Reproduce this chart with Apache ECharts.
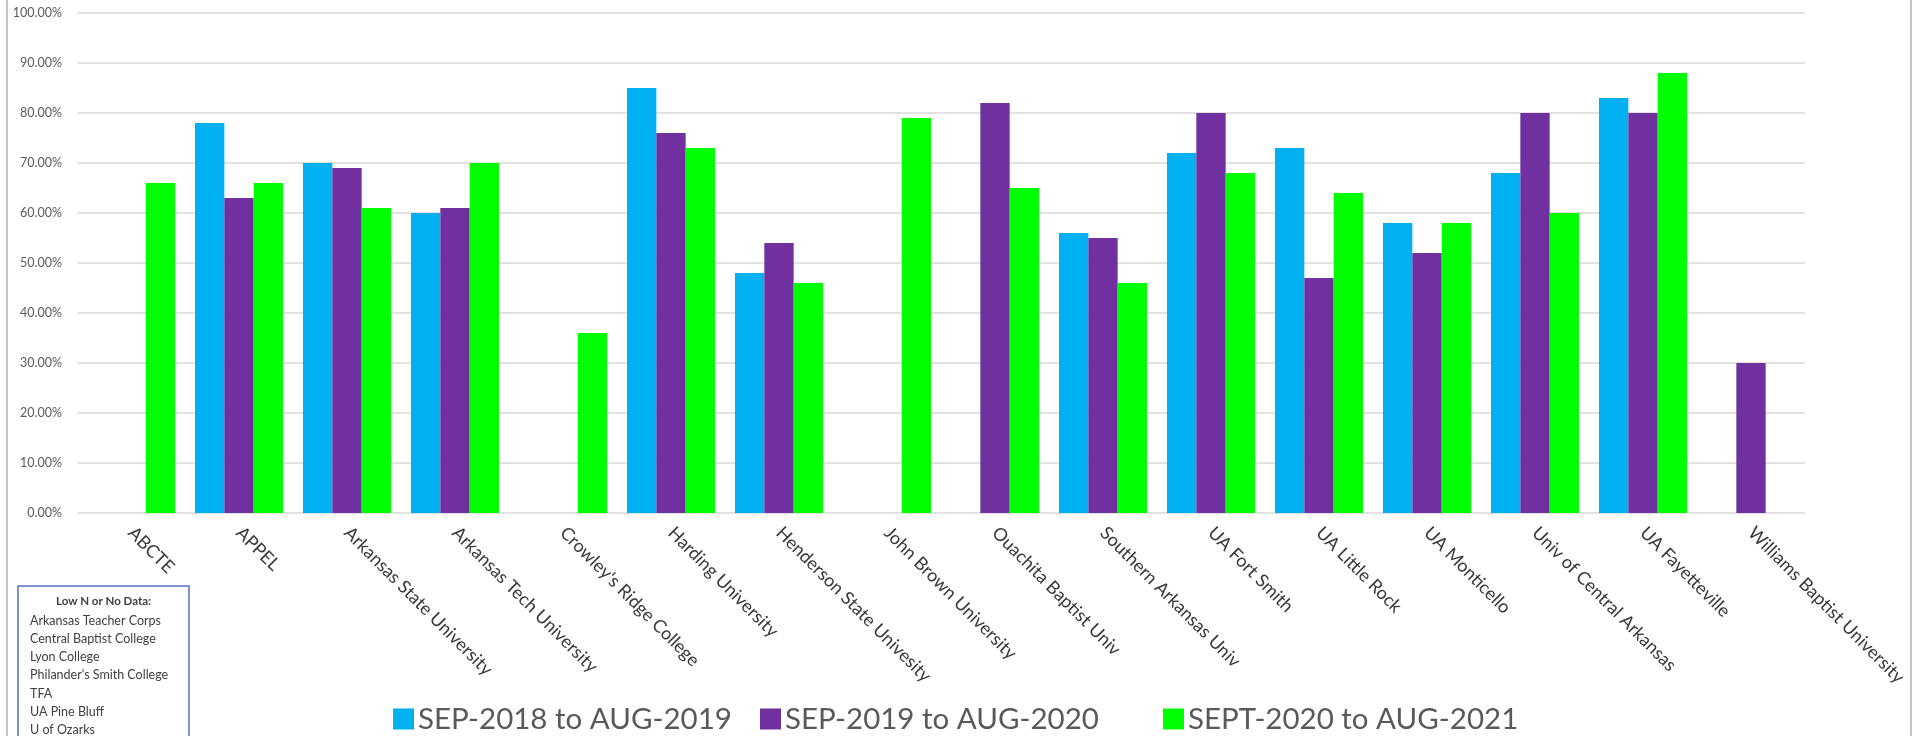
<!DOCTYPE html>
<html>
<head>
<meta charset="utf-8">
<script src="https://cdn.jsdelivr.net/npm/echarts@6/dist/echarts.min.js"></script>
<style>
  html, body { margin: 0; padding: 0; background: #fff; }
  #chart { width: 1915px; height: 736px; }
</style>
</head>
<body>
<div id="chart"></div>
<script>
const categories = [
  'ABCTE', 'APPEL', 'Arkansas State University', 'Arkansas Tech University',
  "Crowley's Ridge College", 'Harding University', 'Henderson State Univesity',
  'John Brown University', 'Ouachita Baptist Univ', 'Southern Arkansas Univ',
  'UA Fort Smith', 'UA Little Rock', 'UA Monticello', 'Univ of Central Arkansas',
  'UA Fayetteville', 'Williams Baptist University'
];

const seriesNames = ['SEP-2018 to AUG-2019', 'SEP-2019 to AUG-2020', 'SEPT-2020 to AUG-2021'];

// percent values, null = no data
const sep2018 = [null, 78, 70, 60, null, 85, 48, null, null, 56, 72, 73, 58, 68, 83, null];
const sep2019 = [null, 63, 69, 61, null, 76, 54, null, 82, 55, 80, 47, 52, 80, 80, 30];
const sept2020 = [66, 66, 61, 70, 36, 73, 46, 79, 65, 46, 68, 64, 58, 60, 88, null];

const lowNTitle = 'Low N or No Data:';
const lowNList = [
  'Arkansas Teacher Corps', 'Central Baptist College', 'Lyon College',
  "Philander's Smith College", 'TFA', 'UA Pine Bluff', 'U of Ozarks'
];

const colors = ['#00B0F0', '#7030A0', '#00FF00'];
const font = 'Lato, "Open Sans", sans-serif';
const legendLefts = [393, 760, 1163];

const chart = echarts.init(document.getElementById('chart'), null, { renderer: 'canvas' });

// one legend per series, placed where the original has them
const legends = seriesNames.map((name, i) => ({
  data: [name],
  left: legendLefts[i],
  top: 704,
  padding: 0,
  icon: 'rect',
  itemWidth: 21,
  itemHeight: 21,
  textStyle: { fontFamily: font, fontSize: 29.5, color: '#595959', padding: [0, 0, 0, -1] }
}));

const boxText = lowNList.map((t, i) => ({
  type: 'text',
  x: 30,
  y: 620.5 + i * 18.3,
  style: { text: t, fill: '#404040', font: '12.5px ' + font, textVerticalAlign: 'middle' }
}));

const option = {
  animation: false,
  color: colors,
  grid: {
    left: 77, right: 110, top: 13, bottom: 223,
    containLabel: false,
    outerBoundsMode: 'none'
  },
  legend: legends,
  xAxis: {
    type: 'category',
    data: categories,
    axisLine: { show: false },
    axisTick: { show: false },
    axisLabel: {
      interval: 0,
      rotate: -45,
      margin: 17,
      fontFamily: font,
      fontSize: 18,
      color: '#383838'
    }
  },
  yAxis: {
    type: 'value',
    min: 0,
    max: 100,
    interval: 10,
    axisLine: { show: false },
    axisTick: { show: false },
    splitLine: { lineStyle: { color: '#d9d9d9', width: 1.6 } },
    axisLabel: {
      margin: 15,
      fontFamily: font,
      fontSize: 12.5,
      color: '#595959',
      formatter: v => v.toFixed(2) + '%'
    }
  },
  series: [
    { name: seriesNames[0], type: 'bar', data: sep2018, barGap: '0%', barCategoryGap: '18.5%' },
    { name: seriesNames[1], type: 'bar', data: sep2019, barGap: '0%', barCategoryGap: '18.5%' },
    { name: seriesNames[2], type: 'bar', data: sept2020, barGap: '0%', barCategoryGap: '18.5%' }
  ],
  graphic: [
    { type: 'line', shape: { x1: 7, y1: 0, x2: 7, y2: 736 }, style: { stroke: '#c4c4c4', lineWidth: 2 } },
    { type: 'line', shape: { x1: 1911, y1: 0, x2: 1911, y2: 736 }, style: { stroke: '#c4c4c4', lineWidth: 2 } },
    {
      type: 'rect',
      shape: { x: 18, y: 586, width: 171, height: 170 },
      style: { fill: '#fff', stroke: '#4f74c9', lineWidth: 1.5 }
    },
    {
      type: 'text',
      x: 103.5,
      y: 601,
      style: { text: lowNTitle, fill: '#404040', font: 'bold 11.5px ' + font, textAlign: 'center', textVerticalAlign: 'middle' }
    }
  ].concat(boxText)
};

chart.setOption(option);
</script>
</body>
</html>
